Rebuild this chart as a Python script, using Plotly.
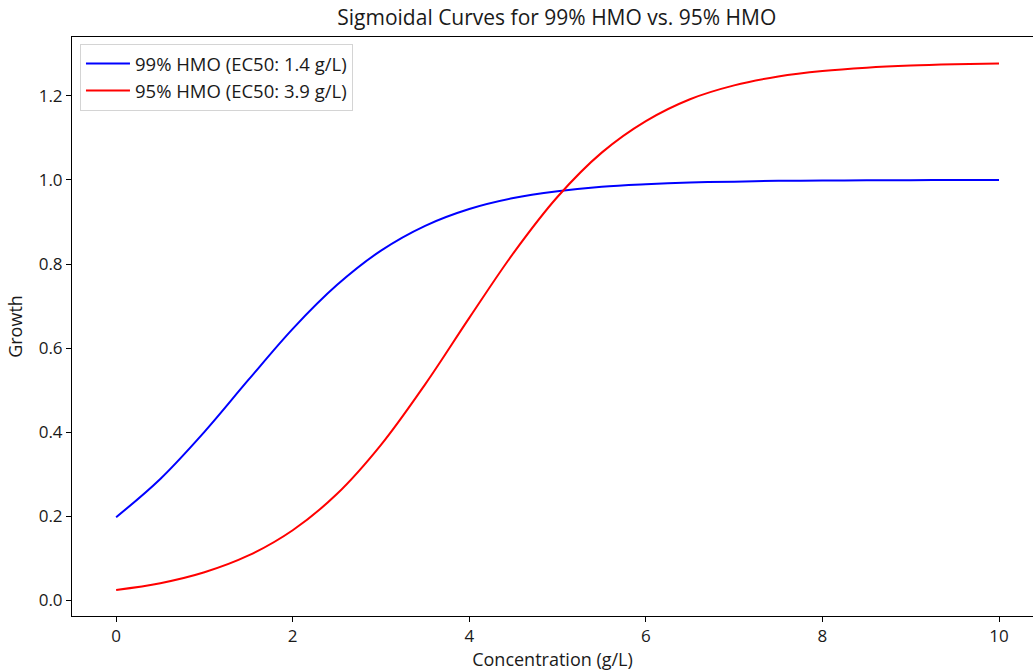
import plotly.graph_objects as go

# Concentration (g/L) sample points
concentration = [0, 0.5, 1, 1.5, 2, 2.5, 3, 3.5, 4, 4.5, 5, 5.5, 6, 6.5, 7, 7.5, 8, 8.5, 9, 9.5, 10]

# 99% HMO growth (EC50 1.4 g/L)
growth_99 = [0.198, 0.289, 0.401, 0.525, 0.646, 0.750, 0.832, 0.891, 0.931, 0.957, 0.973,
             0.984, 0.990, 0.994, 0.996, 0.998, 0.9986, 0.9992, 0.9995, 0.9997, 0.9998]

# 95% HMO growth (EC50 3.9 g/L)
growth_95 = [0.025, 0.041, 0.067, 0.107, 0.167, 0.253, 0.370, 0.514, 0.672, 0.826, 0.960,
             1.065, 1.140, 1.192, 1.225, 1.246, 1.259, 1.267, 1.272, 1.275, 1.277]

x_ticks = [0, 2, 4, 6, 8, 10]
y_ticks = [0.0, 0.2, 0.4, 0.6, 0.8, 1.0, 1.2]
y_tick_text = ["0.0", "0.2", "0.4", "0.6", "0.8", "1.0", "1.2"]

FONT = "Open Sans"

fig = go.Figure()
fig.add_trace(go.Scatter(x=concentration, y=growth_99, mode="lines",
                         line=dict(color="#0000ff", width=2, shape="spline"),
                         name="99% HMO (EC50: 1.4 g/L)"))
fig.add_trace(go.Scatter(x=concentration, y=growth_95, mode="lines",
                         line=dict(color="#ff0000", width=2, shape="spline"),
                         name="95% HMO (EC50: 3.9 g/L)"))

fig.update_layout(
    width=1033, height=672,
    margin=dict(l=72, r=0, t=37, b=56, autoexpand=False),
    paper_bgcolor="white", plot_bgcolor="white",
    font=dict(family=FONT, size=17, color="#1a1a1a"),
    title=dict(text="Sigmoidal Curves for 99% HMO vs. 95% HMO", x=0.539, xanchor="center",
               y=0.973, yanchor="middle", pad=dict(t=0, b=0),
               font=dict(size=21, family=FONT)),
    showlegend=True,
    legend=dict(x=0.0083, y=0.988, xanchor="left", yanchor="top",
                bgcolor="white", bordercolor="#d4d4d4", borderwidth=1,
                itemwidth=44,
                font=dict(size=18.5, family=FONT), tracegroupgap=0),
    xaxis=dict(range=[-0.5, 10.385], tickvals=x_ticks, ticks="outside", ticklen=5,
               tickcolor="black", showline=True, linecolor="black", linewidth=1,
               mirror=True, showgrid=False, zeroline=False, automargin=False,
               tickfont=dict(size=17),
               title=dict(text="Concentration (g/L)", standoff=6, font=dict(size=18))),
    yaxis=dict(range=[-0.037, 1.34], tickvals=y_ticks, ticktext=y_tick_text,
               ticks="outside", ticklen=5, tickcolor="black", showline=True,
               linecolor="black", linewidth=1, mirror=False, showgrid=False,
               zeroline=False, automargin=False, tickfont=dict(size=17),
               title=dict(text="Growth", standoff=11, font=dict(size=18))),
)

fig.write_html("out.html",
               config={"displayModeBar": False},
               post_script="document.body.style.margin='0';document.body.style.overflow='hidden';")
